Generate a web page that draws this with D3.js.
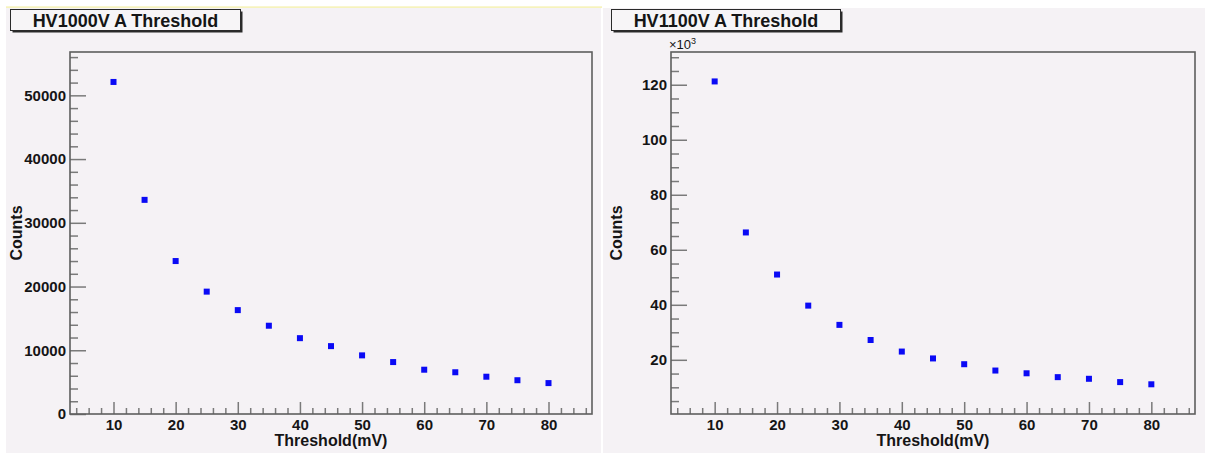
<!DOCTYPE html>
<html>
<head>
  <meta charset="utf-8">
  <script src="https://d3js.org/d3.v7.min.js"></script>
  <style>
    body { margin: 0; background: #ffffff; }
    text { font-family: "Liberation Sans", Arial, sans-serif; fill: #151515; }
    .tick line { stroke: #7a7a7a; stroke-width: 1.5; }
    .domain { display: none; }
  </style>
</head>
<body>
<svg width="1205" height="453"></svg>
<script>
// thresholds (mV) and counts
var thresholds = [10, 15, 20, 25, 30, 35, 40, 45, 50, 55, 60, 65, 70, 75, 80];
var counts1000 = [52100, 33600, 24000, 19200, 16300, 13850, 11900, 10650, 9200, 8150, 6950, 6550, 5850, 5300, 4850];
var counts1100 = [121200, 66300, 51000, 39700, 32700, 27200, 23000, 20500, 18400, 16100, 15100, 13700, 13100, 11900, 11100];

var xMajor = [10, 20, 30, 40, 50, 60, 70, 80];
var yMajor1000 = [0, 10000, 20000, 30000, 40000, 50000];
var yMajor1100 = [20000, 40000, 60000, 80000, 100000, 120000];

var svg = d3.select("svg");

// top strip
svg.append("rect").attr("x", 6).attr("y", 6.5).attr("width", 596).attr("height", 1.2).attr("fill", "#f3eea0");

function panel(opt) {
  var g = svg.append("g");

  // pad background
  g.append("rect")
    .attr("x", opt.padX).attr("y", 8)
    .attr("width", opt.padW).attr("height", 445)
    .attr("fill", "#f5f2f5");

  var f = opt.frame;
  var x = d3.scaleLinear().domain([3, 87]).range([f.x0, f.x1]);
  var y = d3.scaleLinear().domain(opt.yDomain).range([f.y1, f.y0]);

  // minor x ticks every 2
  var xMinor = d3.range(4, 87, 2).filter(function(v) { return v % 10 !== 0; });
  g.append("g")
    .attr("transform", "translate(0," + f.y1 + ")")
    .call(d3.axisBottom(x).tickValues(xMinor).tickSizeInner(-6).tickSizeOuter(0).tickFormat(""));
  g.append("g")
    .attr("transform", "translate(0," + f.y1 + ")")
    .call(d3.axisBottom(x).tickValues(xMajor).tickSizeInner(-12).tickSizeOuter(0).tickPadding(5))
    .selectAll("text")
      .style("font-size", "15px").style("font-weight", "bold");

  // y ticks
  var yMinor = d3.range(opt.minorStep, opt.yDomain[1], opt.minorStep)
    .filter(function(v) { return v % opt.majorStep !== 0; });
  g.append("g")
    .attr("transform", "translate(" + f.x0 + ",0)")
    .call(d3.axisLeft(y).tickValues(yMinor).tickSizeInner(-8).tickSizeOuter(0).tickFormat(""));
  g.append("g")
    .attr("transform", "translate(" + f.x0 + ",0)")
    .call(d3.axisLeft(y).tickValues(opt.yMajor).tickSizeInner(-16).tickSizeOuter(0).tickPadding(4)
      .tickFormat(opt.tickFormat))
    .selectAll("text")
      .style("font-size", "15px").style("font-weight", "bold");

  // frame
  g.append("rect")
    .attr("x", f.x0).attr("y", f.y0)
    .attr("width", f.x1 - f.x0).attr("height", f.y1 - f.y0)
    .attr("fill", "none").attr("stroke", "#5e5e5e").attr("stroke-width", 1.6);

  // markers
  g.selectAll("rect.pt")
    .data(thresholds)
    .enter().append("rect")
      .attr("class", "pt")
      .attr("x", function(d) { return x(d) - 3; })
      .attr("y", function(d, i) { return y(opt.values[i]) - 3; })
      .attr("width", 6).attr("height", 6)
      .attr("fill", "#0a0af5");

  // axis titles
  g.append("text")
    .attr("x", (f.x0 + f.x1) / 2).attr("y", 446)
    .style("text-anchor", "middle").style("font-size", "16px").style("font-weight", "bold")
    .text("Threshold(mV)");
  g.append("text")
    .attr("transform", "translate(" + opt.countsX + "," + ((f.y0 + f.y1) / 2) + ") rotate(-90)")
    .style("text-anchor", "middle").style("font-size", "16px").style("font-weight", "bold")
    .text("Counts");

  // title box with shadow
  var b = opt.titleBox;
  g.append("rect").attr("x", b.x + 2).attr("y", b.y + 2).attr("width", b.w).attr("height", b.h).attr("fill", "#2a2a2a");
  g.append("rect").attr("x", b.x).attr("y", b.y).attr("width", b.w).attr("height", b.h)
    .attr("fill", "#f7f5f7").attr("stroke", "#2a2a2a").attr("stroke-width", 1);
  g.append("text")
    .attr("x", b.x + b.w / 2).attr("y", b.y + 17)
    .style("text-anchor", "middle").style("font-size", "18px").style("font-weight", "bold")
    .text(opt.title);

  return g;
}

panel({
  padX: 6, padW: 595,
  frame: {x0: 70, x1: 592, y0: 52, y1: 414},
  yDomain: [0, 56800],
  yMajor: yMajor1000, majorStep: 10000, minorStep: 2000,
  tickFormat: d3.format("d"),
  values: counts1000,
  countsX: 22,
  titleBox: {x: 10.5, y: 9.5, w: 230, h: 21},
  title: "HV1000V A Threshold"
});

var right = panel({
  padX: 603, padW: 602,
  frame: {x0: 671, x1: 1195, y0: 52, y1: 414},
  yDomain: [300, 131900],
  yMajor: yMajor1100, majorStep: 20000, minorStep: 5000,
  tickFormat: function(d) { return d / 1000; },
  values: counts1100,
  countsX: 622,
  titleBox: {x: 611.5, y: 9.5, w: 229, h: 21},
  title: "HV1100V A Threshold"
});

// exponent label
var ex = right.append("text").attr("x", 669).attr("y", 49).style("font-size", "13px");
ex.append("tspan").text("\u00d710");
ex.append("tspan").attr("dy", -5).style("font-size", "9px").text("3");
</script>
</body>
</html>
